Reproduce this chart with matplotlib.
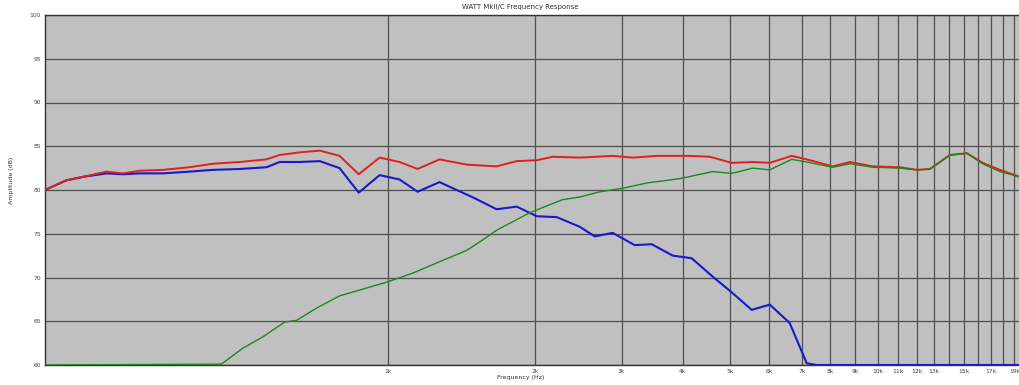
import matplotlib.pyplot as plt
from matplotlib.ticker import FixedLocator, FixedFormatter, NullLocator

# system response (sum)
sum_freq = [200, 221, 239, 267, 288, 312, 348, 394, 440, 499, 566, 602, 661, 727,
            798, 873, 963, 1058, 1151, 1276, 1450, 1668, 1834, 2015, 2172, 2465,
            2878, 3163, 3540, 4133, 4540, 5035, 5559, 6020, 6670, 7160, 8090, 8770,
            9770, 11090, 12020, 12770, 14030, 15200, 16370, 17740, 19490]
sum_db = [80.0, 81.1, 81.5, 82.1, 81.9, 82.2, 82.3, 82.6, 83.0, 83.2, 83.5, 84.0,
          84.3, 84.5, 83.9, 81.8, 83.7, 83.2, 82.4, 83.5, 82.9, 82.7, 83.3, 83.4,
          83.8, 83.7, 83.9, 83.7, 83.9, 83.9, 83.8, 83.1, 83.2, 83.1, 83.9, 83.5,
          82.7, 83.2, 82.7, 82.6, 82.3, 82.4, 84.0, 84.2, 83.1, 82.3, 81.5]

# woofer
low_freq = [200, 221, 239, 267, 288, 312, 348, 394, 440, 499, 566, 602, 661, 727,
            798, 873, 963, 1058, 1151, 1276, 1500, 1668, 1834, 2015, 2213, 2465,
            2645, 2878, 3192, 3458, 3816, 4171, 4604, 5059, 5530, 6020, 6610, 7160,
            7500, 19490]
low_db = [80.0, 81.1, 81.5, 81.9, 81.8, 81.9, 81.9, 82.1, 82.3, 82.4, 82.6, 83.2,
          83.2, 83.3, 82.5, 79.7, 81.7, 81.2, 79.8, 80.9, 79.1, 77.8, 78.1, 77.0,
          76.9, 75.8, 74.7, 75.1, 73.7, 73.8, 72.5, 72.2, 70.1, 68.2, 66.3, 66.9,
          64.8, 60.2, 60.0, 60.0]

# tweeter
high_freq = [200, 458, 506, 556, 616, 652, 716, 798, 906, 1000, 1125, 1276, 1450,
             1563, 1668, 1949, 2275, 2465, 2709, 3017, 3379, 3945, 4604, 5035, 5559,
             6020, 6670, 7160, 8090, 8770, 9770, 11090, 12020, 12770, 14030, 15200,
             16370, 17740, 19490]
high_db = [60.0, 60.1, 61.9, 63.2, 64.9, 65.1, 66.5, 67.9, 68.8, 69.5, 70.5, 71.8,
           73.1, 74.3, 75.4, 77.4, 78.9, 79.2, 79.8, 80.2, 80.8, 81.3, 82.1, 81.9,
           82.5, 82.3, 83.5, 83.2, 82.6, 83.0, 82.6, 82.5, 82.3, 82.4, 84.0, 84.2,
           83.0, 82.1, 81.5]

grid_freq = [1000 * k for k in range(1, 20)]
label_freq = [1000 * k for k in range(1, 14)] + [15000, 17000, 19000]
label_text = ["%dk" % (f // 1000) for f in label_freq]
y_ticks = [60, 65, 70, 75, 80, 85, 90, 95, 100]

fig = plt.figure(figsize=(10.2, 3.85), dpi=100)
ax = fig.add_axes([45 / 1020, 20 / 385, 975 / 1020, 350 / 385])
ax.set_facecolor("#c0c0c0")

ax.plot(low_freq, low_db, color="#1818cc", lw=1.5, zorder=3)
ax.plot(sum_freq, sum_db, color="#e02020", lw=1.4, zorder=4)
ax.plot(high_freq, high_db, color="#1a8a1a", lw=1.0, zorder=5)

ax.set_xscale("log")
ax.set_xlim(200, 19500)
ax.set_ylim(60, 100)
ax.xaxis.set_major_locator(FixedLocator(label_freq))
ax.xaxis.set_major_formatter(FixedFormatter(label_text))
ax.xaxis.set_minor_locator(NullLocator())
ax.set_yticks(y_ticks)
for f in grid_freq:
    ax.axvline(f, color="#505050", lw=0.9, zorder=1)
ax.yaxis.grid(True, color="#505050", lw=0.9, zorder=1)
ax.set_axisbelow(True)
ax.tick_params(length=0, labelsize=4.3, colors="#444444", pad=3)

for side in ["top", "left", "bottom"]:
    ax.spines[side].set_color("#333333")
    ax.spines[side].set_linewidth(1)
ax.spines["right"].set_visible(False)

fig.text(520 / 1020, 1 - 7 / 385, "WATT MkII/C Frequency Response",
         ha="center", va="center", fontsize=5, color="#333333")
fig.text(521 / 1020, 1 - 378 / 385, "Frequency (Hz)",
         ha="center", va="center", fontsize=4.5, color="#333333")
fig.text(12 / 1020, 1 - 180 / 385, "Amplitude (dB)", rotation=90,
         ha="center", va="center", fontsize=4.5, color="#333333")

fig.savefig("out.png", dpi=100)
